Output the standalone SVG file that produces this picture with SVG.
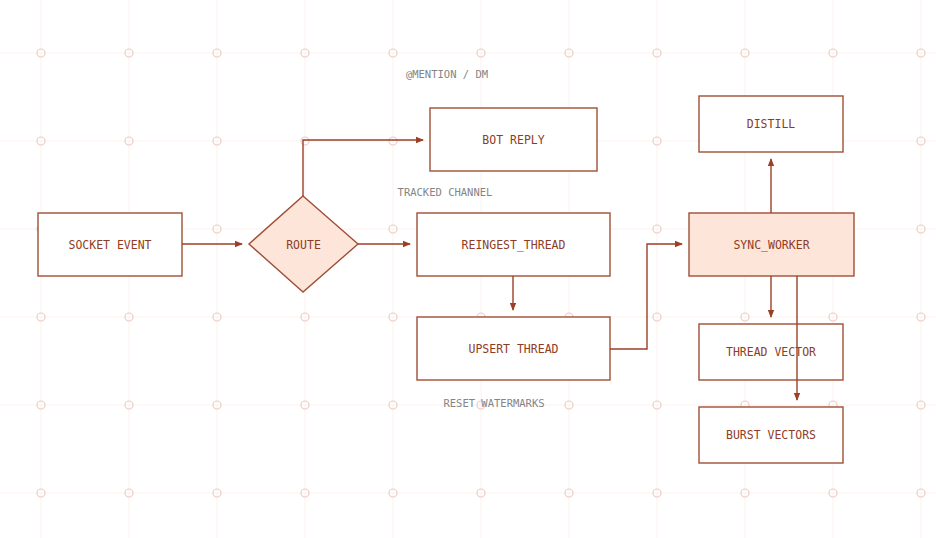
<svg xmlns="http://www.w3.org/2000/svg" width="936" height="538" viewBox="0 0 936 538">
<style>
.grid line{stroke:#fcf1ee;stroke-width:1}
.grid circle{fill:none;stroke:#ecccc3;stroke-width:1.2}
.box{fill:#ffffff;stroke:#a04f36;stroke-width:1.4}
.hot{fill:#fee5d9;stroke:#a04f36;stroke-width:1.4}
.t{font-family:"DejaVu Sans Mono","Liberation Mono",monospace;font-size:11.5px;fill:#8e3d25;text-anchor:middle;dominant-baseline:central}
.lbl{font-family:"DejaVu Sans Mono","Liberation Mono",monospace;font-size:10.5px;fill:#858585;text-anchor:middle}
.edge{fill:none;stroke:#9a4027;stroke-width:1.4}
</style>
<defs>
<marker id="ah" viewBox="0 0 8 8" refX="7" refY="4" markerWidth="8" markerHeight="8" markerUnits="userSpaceOnUse" orient="auto">
<path d="M0,0.8 L8,4 L0,7.2 Z" fill="#9a4027"/>
</marker>
</defs>
<rect width="936" height="538" fill="#ffffff"/>
<g class="grid">
<line x1="41" y1="0" x2="41" y2="538"/><line x1="129" y1="0" x2="129" y2="538"/><line x1="217" y1="0" x2="217" y2="538"/><line x1="305" y1="0" x2="305" y2="538"/><line x1="393" y1="0" x2="393" y2="538"/><line x1="481" y1="0" x2="481" y2="538"/><line x1="569" y1="0" x2="569" y2="538"/><line x1="657" y1="0" x2="657" y2="538"/><line x1="745" y1="0" x2="745" y2="538"/><line x1="833" y1="0" x2="833" y2="538"/><line x1="921" y1="0" x2="921" y2="538"/>
<line x1="0" y1="53" x2="936" y2="53"/><line x1="0" y1="141" x2="936" y2="141"/><line x1="0" y1="229" x2="936" y2="229"/><line x1="0" y1="317" x2="936" y2="317"/><line x1="0" y1="405" x2="936" y2="405"/><line x1="0" y1="493" x2="936" y2="493"/>
<g id="dots">
<circle cx="41" cy="53" r="4"/><circle cx="129" cy="53" r="4"/><circle cx="217" cy="53" r="4"/><circle cx="305" cy="53" r="4"/><circle cx="393" cy="53" r="4"/><circle cx="481" cy="53" r="4"/><circle cx="569" cy="53" r="4"/><circle cx="657" cy="53" r="4"/><circle cx="745" cy="53" r="4"/><circle cx="833" cy="53" r="4"/><circle cx="921" cy="53" r="4"/>
<circle cx="41" cy="141" r="4"/><circle cx="129" cy="141" r="4"/><circle cx="217" cy="141" r="4"/><circle cx="305" cy="141" r="4"/><circle cx="393" cy="141" r="4"/><circle cx="481" cy="141" r="4"/><circle cx="569" cy="141" r="4"/><circle cx="657" cy="141" r="4"/><circle cx="745" cy="141" r="4"/><circle cx="833" cy="141" r="4"/><circle cx="921" cy="141" r="4"/>
<circle cx="41" cy="229" r="4"/><circle cx="129" cy="229" r="4"/><circle cx="217" cy="229" r="4"/><circle cx="305" cy="229" r="4"/><circle cx="393" cy="229" r="4"/><circle cx="481" cy="229" r="4"/><circle cx="569" cy="229" r="4"/><circle cx="657" cy="229" r="4"/><circle cx="745" cy="229" r="4"/><circle cx="833" cy="229" r="4"/><circle cx="921" cy="229" r="4"/>
<circle cx="41" cy="317" r="4"/><circle cx="129" cy="317" r="4"/><circle cx="217" cy="317" r="4"/><circle cx="305" cy="317" r="4"/><circle cx="393" cy="317" r="4"/><circle cx="481" cy="317" r="4"/><circle cx="569" cy="317" r="4"/><circle cx="657" cy="317" r="4"/><circle cx="745" cy="317" r="4"/><circle cx="833" cy="317" r="4"/><circle cx="921" cy="317" r="4"/>
<circle cx="41" cy="405" r="4"/><circle cx="129" cy="405" r="4"/><circle cx="217" cy="405" r="4"/><circle cx="305" cy="405" r="4"/><circle cx="393" cy="405" r="4"/><circle cx="481" cy="405" r="4"/><circle cx="569" cy="405" r="4"/><circle cx="657" cy="405" r="4"/><circle cx="745" cy="405" r="4"/><circle cx="833" cy="405" r="4"/><circle cx="921" cy="405" r="4"/>
<circle cx="41" cy="493" r="4"/><circle cx="129" cy="493" r="4"/><circle cx="217" cy="493" r="4"/><circle cx="305" cy="493" r="4"/><circle cx="393" cy="493" r="4"/><circle cx="481" cy="493" r="4"/><circle cx="569" cy="493" r="4"/><circle cx="657" cy="493" r="4"/><circle cx="745" cy="493" r="4"/><circle cx="833" cy="493" r="4"/><circle cx="921" cy="493" r="4"/>
</g>
</g>
<g id="socket-event"><rect class="box" x="38" y="213" width="144" height="63"/><text class="t" x="110" y="244.5">SOCKET EVENT</text></g>
<g id="route"><polygon class="hot" points="303,196 358,244 303,292 249,244"/><text class="t" x="303.5" y="244.5">ROUTE</text></g>
<g id="bot-reply"><rect class="box" x="430" y="108" width="167" height="63"/><text class="t" x="513.5" y="139.5">BOT REPLY</text></g>
<g id="reingest-thread"><rect class="box" x="417" y="213" width="193" height="63"/><text class="t" x="513.5" y="244.5">REINGEST_THREAD</text></g>
<g id="upsert-thread"><rect class="box" x="417" y="317" width="193" height="63"/><text class="t" x="513.5" y="348.5">UPSERT THREAD</text></g>
<g id="sync-worker"><rect class="hot" x="689" y="213" width="165" height="63"/><text class="t" x="771.5" y="244.5">SYNC_WORKER</text></g>
<g id="distill"><rect class="box" x="699" y="96" width="144" height="56"/><text class="t" x="771" y="123.5">DISTILL</text></g>
<g id="thread-vector"><rect class="box" x="699" y="324" width="144" height="56"/><text class="t" x="771" y="351.5">THREAD VECTOR</text></g>
<g id="burst-vectors"><rect class="box" x="699" y="407" width="144" height="56"/><text class="t" x="771" y="434.5">BURST VECTORS</text></g>
<g id="connectors">
<path class="edge" d="M182,244 H242" marker-end="url(#ah)"/>
<path class="edge" d="M303,196 V140 H423" marker-end="url(#ah)"/>
<path class="edge" d="M358,244 H410" marker-end="url(#ah)"/>
<path class="edge" d="M513,276 V310" marker-end="url(#ah)"/>
<path class="edge" d="M610,349 H647 V244 H682" marker-end="url(#ah)"/>
<path class="edge" d="M771,213 V159" marker-end="url(#ah)"/>
<path class="edge" d="M771,276 V317" marker-end="url(#ah)"/>
<path class="edge" d="M797,276 V400" marker-end="url(#ah)"/>
</g>
<g id="edge-labels">
<text class="lbl" x="447" y="78">@MENTION / DM</text>
<text class="lbl" x="445" y="196">TRACKED CHANNEL</text>
<text class="lbl" x="494" y="407">RESET WATERMARKS</text>
</g>
</svg>
